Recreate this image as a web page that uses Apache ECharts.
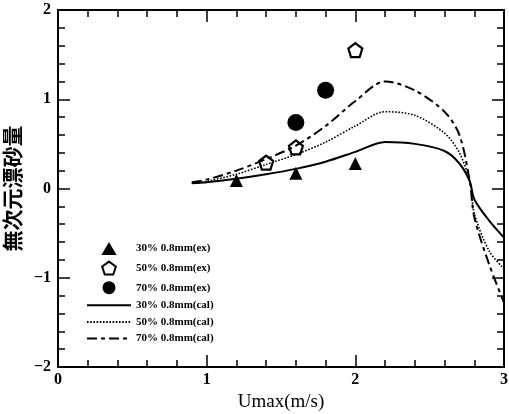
<!DOCTYPE html>
<html>
<head>
<meta charset="utf-8">
<script src="https://cdn.jsdelivr.net/npm/echarts@6/dist/echarts.min.js"></script>
<style>
  html, body { margin: 0; padding: 0; background: #fff; }
  #chart { width: 509px; height: 414px; }
</style>
</head>
<body>
<div id="chart"></div>
<script>
// measured points (ex)
const ex30 = [[1.2, 0.09], [1.6, 0.17], [2.0, 0.28]];
const ex50 = [[1.4, 0.29], [1.6, 0.46], [2.0, 1.55]];
const ex70 = [[1.6, 0.74], [1.8, 1.10]];

// calculated curves (cal)
const calX = [0.9, 1.0, 1.2, 1.4, 1.6, 1.8, 2.0, 2.2, 2.4, 2.6, 2.7, 2.77, 2.8, 2.9, 3.0];
const cal30 = [0.06, 0.07, 0.11, 0.16, 0.22, 0.30, 0.41, 0.52, 0.50, 0.42, 0.28, 0.08, -0.12, -0.36, -0.55];
const cal50 = [0.06, 0.08, 0.16, 0.27, 0.38, 0.52, 0.70, 0.86, 0.82, 0.62, 0.40, 0.08, -0.28, -0.70, -0.90];
const cal70 = [0.07, 0.10, 0.20, 0.33, 0.48, 0.70, 0.98, 1.20, 1.10, 0.86, 0.60, 0.08, -0.32, -0.85, -1.28];

const names = ['30% 0.8mm(ex)', '50% 0.8mm(ex)', '70% 0.8mm(ex)',
               '30% 0.8mm(cal)', '50% 0.8mm(cal)', '70% 0.8mm(cal)'];

const triangle = 'path://M0,-9 L10,8 L-10,8 Z';
const pentagon = 'path://M0,-10 L9.51,-3.09 L5.88,8.09 L-5.88,8.09 L-9.51,-3.09 Z';
const serif = "'Liberation Serif', 'DejaVu Serif', serif";

const chart = echarts.init(document.getElementById('chart'));

const pair = ys => calX.map((x, i) => [x, ys[i]]);

const frameAxis = {
  min: 0, max: 3, interval: 1,
  axisLine: { show: true, onZero: false, lineStyle: { color: '#000', width: 2 } },
  axisTick: { show: true, inside: true, length: 12, lineStyle: { color: '#000', width: 1.5 } },
  minorTick: { show: true, splitNumber: 5, length: 7, lineStyle: { color: '#000', width: 1.5 } },
  splitLine: { show: false }
};
const frameYAxis = Object.assign({}, frameAxis, { min: -2, max: 2, interval: 1 });

// legend: hide the marker on the line entries
const legendData = names.map((n, i) => i < 3 ? { name: n } : { name: n, itemStyle: { opacity: 0 } });

const option = {
  animation: false,
  grid: { left: 58, right: 5, top: 10, bottom: 47, outerBoundsMode: 'none' },
  legend: {
    orient: 'vertical',
    left: 81,
    top: 237,
    itemWidth: 44,
    itemHeight: 13,
    itemGap: 5.6,
    data: legendData,
    textStyle: { fontFamily: serif, fontWeight: 'bold', fontSize: 11, color: '#000' }
  },
  xAxis: [
    Object.assign({}, frameAxis, {
      type: 'value', position: 'bottom',
      name: 'Umax(m/s)', nameLocation: 'middle', nameGap: 24,
      nameTextStyle: { fontFamily: serif, fontSize: 19, color: '#000' },
      axisLabel: { fontFamily: serif, fontWeight: 'bold', fontSize: 16, color: '#000', margin: 5 }
    }),
    Object.assign({}, frameAxis, { type: 'value', position: 'top', axisLabel: { show: false } })
  ],
  yAxis: [
    Object.assign({}, frameYAxis, {
      type: 'value', position: 'left',
      name: '無次元漂砂量', nameLocation: 'middle', nameGap: 31,
      nameTextStyle: { fontFamily: "'Noto Sans CJK JP', sans-serif", fontWeight: 'bold', fontSize: 21, color: '#000' },
      axisLabel: {
        fontFamily: serif, fontWeight: 'bold', fontSize: 16, color: '#000', margin: 7,
        formatter: v => String(v).replace('-', '\u2212')
      }
    }),
    Object.assign({}, frameYAxis, { type: 'value', position: 'right', axisLabel: { show: false } })
  ],
  series: [
    {
      name: names[0], type: 'scatter', data: ex30,
      symbol: triangle, symbolSize: 13,
      itemStyle: { color: '#000', opacity: 1 }
    },
    {
      name: names[1], type: 'scatter', data: ex50,
      symbol: pentagon, symbolSize: 14,
      itemStyle: { color: '#fff', borderColor: '#000', borderWidth: 2.2, opacity: 1 }
    },
    {
      name: names[2], type: 'scatter', data: ex70,
      symbol: 'circle', symbolSize: 17,
      itemStyle: { color: '#000', opacity: 1 }
    },
    {
      name: names[3], type: 'line', data: pair(cal30), smooth: 0.3,
      symbol: 'none', itemStyle: { color: '#000' },
      lineStyle: { color: '#000', width: 2, type: 'solid' }
    },
    {
      name: names[4], type: 'line', data: pair(cal50), smooth: 0.3,
      symbol: 'none', itemStyle: { color: '#000' },
      lineStyle: { color: '#000', width: 1.6, type: [1.6, 1.6] }
    },
    {
      name: names[5], type: 'line', data: pair(cal70), smooth: 0.3,
      symbol: 'none', itemStyle: { color: '#000' },
      lineStyle: { color: '#000', width: 2, type: [10, 4, 4, 4] }
    }
  ]
};

chart.setOption(option);
window.addEventListener('resize', function () {
  chart.resize();
});
</script>
</body>
</html>
